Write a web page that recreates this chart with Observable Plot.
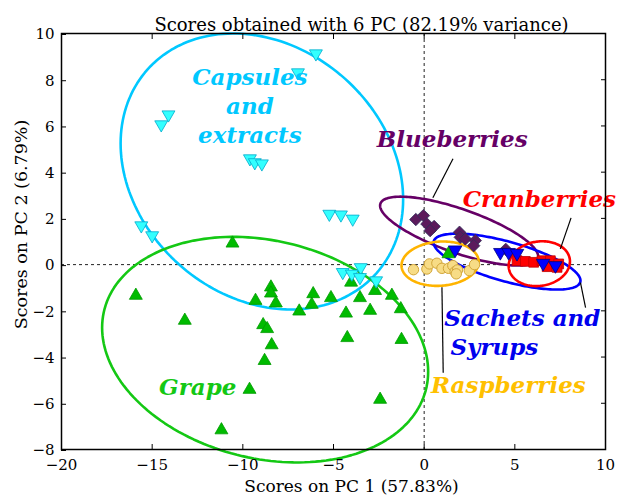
<!DOCTYPE html>
<html>
<head>
<meta charset="utf-8">
<script src="https://cdn.jsdelivr.net/npm/d3@7"></script>
<script src="https://cdn.jsdelivr.net/npm/@observablehq/plot@0.6"></script>
<style>
  html, body { margin: 0; padding: 0; background: white; }
  #chart { width: 617px; height: 497px; }
</style>
</head>
<body>
<div id="chart"></div>
<script>
// ---- Data ----
const titleText = "Scores obtained with 6 PC (82.19% variance)";
const xLabelText = "Scores on PC 1 (57.83%)";
const yLabelText = "Scores on PC 2 (6.79%)";
const xTicks = [-20, -15, -10, -5, 0, 5, 10];
const yTicks = [-8, -6, -4, -2, 0, 2, 4, 6, 8, 10];

// Capsules and extracts (cyan down-triangles)
const capsulesX = [-5.97, -6.96, -14.1, -14.5, -9.61, -9.34, -8.95, -15.6, -15.0, -5.23, -4.59, -3.94, -4.49, -3.99, -3.50, -3.54, -2.65];
const capsulesY = [9.13, 8.31, 6.49, 6.06, 4.59, 4.42, 4.37, 1.69, 1.26, 2.19, 2.16, 1.98, -0.33, -0.40, -0.12, -0.55, -0.69];

// Grape (green triangles)
const grapeX = [-15.9, -13.2, -8.45, -8.45, -9.30, -8.18, -8.88, -8.66, -8.41, -8.80, -9.63, -11.18, -6.89, -6.12, -6.20, -5.14, -4.31, -3.54, -2.98, -4.03, -2.71, -1.78, -1.29, -4.24, -1.25, -2.43, -10.57, 1.34];
const grapeY = [-1.34, -2.42, -0.98, -1.24, -1.56, -1.67, -2.61, -2.78, -3.48, -4.16, -5.41, -7.16, -2.02, -1.27, -1.73, -1.44, -2.11, -1.44, -1.99, -0.77, -1.13, -1.34, -1.92, -3.17, -3.25, -5.84, 0.92, 0.46];

// Raspberries (yellow circles)
const raspX = [-0.59, 0.15, 0.29, 0.70, 0.98, 1.34, 1.58, 1.71, 1.84, 1.77, 2.49, 2.78];
const raspY = [-0.22, -0.19, 0.03, 0.06, -0.16, -0.16, -0.04, -0.30, -0.23, -0.40, -0.26, 0.00];

// Blueberries (purple diamonds)
const blueberX = [-0.46, -0.04, 0.15, 0.55, 0.33, 1.95, 1.99, 2.27, 2.82, 2.73, 4.50];
const blueberY = [1.95, 2.12, 1.76, 1.65, 1.47, 1.40, 1.18, 1.11, 1.04, 0.82, 0.66];

// Cranberries (red squares)
const cranX = [5.12, 5.58, 6.04, 6.50, 6.96, 7.42, 6.78, 7.33];
const cranY = [0.17, 0.14, 0.10, 0.17, 0.17, 0.03, -0.09, -0.12];

// Sachets and Syrups (blue down-triangles)
const sachX = [1.71, 4.20, 4.66, 5.12, 6.56, 7.24];
const sachY = [0.64, 0.53, 0.53, 0.49, 0.06, -0.04];

// Confidence ellipses: centre, half-extent in x and y, correlation
const ellipseNames = ["Capsules", "Grape", "Blueberries", "Sachets", "Cranberries", "Raspberries"];
const ellipseCX = [-8.95, -8.77, 1.93, 4.57, 6.35, 0.88];
const ellipseCY = [4.03, -3.68, 1.45, 0.13, 0.04, 0.04];
const ellipseSX = [7.79, 8.99, 4.36, 4.05, 1.69, 2.13];
const ellipseSY = [5.97, 4.88, 1.49, 1.21, 0.97, 0.96];
const ellipseRho = [-0.203, -0.195, -0.74, -0.68, 0.10, 0.08];
const ellipseColors = ["#00C8FF", "#14C814", "#660066", "#0000FF", "#FF0000", "#FFB400"];

// Group labels
const labelTexts = ["Capsules", "and", "extracts", "Blueberries", "Cranberries", "Sachets and", "Syrups", "Raspberries", "Grape"];
const labelX = [-9.61, -9.61, -9.61, 1.55, 6.35, 5.41, 3.87, 4.64, -12.49];
const labelY = [8.10, 6.84, 5.58, 5.41, 2.81, -2.34, -3.59, -5.24, -5.32];
const labelColors = ["#00C8FF", "#00C8FF", "#00C8FF", "#660066", "#FF0000", "#0000EE", "#0000EE", "#FFC000", "#14C814"];

// Leader lines
const leaderX1 = [1.59, 8.10, 8.62, 0.98];
const leaderY1 = [4.58, 2.02, -0.78, -0.98];
const leaderX2 = [0.48, 7.51, 8.90, 1.05];
const leaderY2 = [2.89, 0.68, -1.86, -4.68];

// ---- Build tables ----
const pts = (xs, ys) => xs.map((x, i) => ({x, y: ys[i]}));
const ellipsePts = [];
ellipseNames.forEach((name, k) => {
  const n = 180;
  const s = Math.sqrt(1 - ellipseRho[k] * ellipseRho[k]);
  for (let i = 0; i <= n; i++) {
    const t = (2 * Math.PI * i) / n;
    ellipsePts.push({
      name,
      x: ellipseCX[k] + ellipseSX[k] * Math.cos(t),
      y: ellipseCY[k] + ellipseSY[k] * (ellipseRho[k] * Math.cos(t) + s * Math.sin(t))
    });
  }
});
const labels = labelTexts.map((t, i) => ({t, x: labelX[i], y: labelY[i], c: labelColors[i]}));
const leaders = leaderX1.map((x1, i) => ({x1, y1: leaderY1[i], x2: leaderX2[i], y2: leaderY2[i]}));

const triDown = {
  draw(context, size) {
    const a = Math.sqrt((4 * size) / Math.sqrt(3));
    const h = (a * Math.sqrt(3)) / 2;
    context.moveTo(0, (2 * h) / 3);
    context.lineTo(-a / 2, -h / 3);
    context.lineTo(a / 2, -h / 3);
    context.closePath();
  }
};

const serif = "DejaVu Serif";

const chart = Plot.plot({
  width: 617,
  height: 497,
  marginTop: 33,
  marginBottom: 48,
  marginLeft: 61,
  marginRight: 12,
  x: {domain: [-20, 10]},
  y: {domain: [-8, 10]},
  style: {fontFamily: serif, fontSize: "14px", background: "white", color: "black", overflow: "visible"},
  marks: [
    Plot.ruleX([0], {stroke: "#222", strokeDasharray: "3,3", strokeWidth: 1}),
    Plot.ruleY([0], {stroke: "#222", strokeDasharray: "3,3", strokeWidth: 1}),
    Plot.line(ellipsePts, {x: "x", y: "y", z: "name", stroke: (d) => ellipseColors[ellipseNames.indexOf(d.name)], strokeWidth: 2.6}),
    Plot.dot(pts(grapeX, grapeY), {x: "x", y: "y", symbol: "triangle", r: 4.8, fill: "#00BB00", stroke: "#009a00", strokeWidth: 0.8}),
    Plot.dot(pts(capsulesX, capsulesY), {x: "x", y: "y", symbol: triDown, r: 4.8, fill: "#33FFFF", stroke: "#00AACC", strokeWidth: 0.8}),
    Plot.dot(pts(raspX, raspY), {x: "x", y: "y", symbol: "circle", r: 5.2, fill: "#F7DC86", stroke: "#D2A63A", strokeWidth: 1}),
    Plot.dot(pts(blueberX, blueberY), {x: "x", y: "y", symbol: "diamond2", r: 5.6, fill: "#5C1A5C", stroke: "#2E2E5A", strokeWidth: 0.8}),
    Plot.dot(pts(cranX, cranY), {x: "x", y: "y", symbol: "square", r: 5.5, fill: "#FF0000", stroke: "#C00000", strokeWidth: 0.8}),
    Plot.dot(pts(sachX, sachY), {x: "x", y: "y", symbol: triDown, r: 5, fill: "#0000FF", stroke: "#000080", strokeWidth: 0.8}),
    Plot.link(leaders, {x1: "x1", y1: "y1", x2: "x2", y2: "y2", stroke: "black", strokeWidth: 1.2}),
    Plot.text(labels, {x: "x", y: "y", text: "t", fill: "c", fontSize: 23, fontWeight: "bold", fontStyle: "italic", fontFamily: serif}),
    Plot.frame({stroke: "black", strokeWidth: 1.5}),
    Plot.axisX(xTicks, {anchor: "bottom", tickSize: -5, tickPadding: 15, label: null, fontSize: 15}),
    Plot.axisX(xTicks, {anchor: "top", tickSize: -5, tickFormat: () => "", label: null}),
    Plot.axisY(yTicks, {anchor: "left", tickSize: -5, tickPadding: 12, label: null, fontSize: 15, dy: 1}),
    Plot.axisY(yTicks, {anchor: "right", tickSize: -5, tickFormat: () => "", label: null}),
    Plot.text([titleText], {frameAnchor: "top", dx: 28, dy: -15, fontSize: 18, fill: "black"}),
    Plot.text([xLabelText], {frameAnchor: "bottom", dx: 18, dy: 37, lineAnchor: "middle", fontSize: 17, fill: "black"}),
    Plot.text([yLabelText], {frameAnchor: "left", textAnchor: "middle", dx: -40, dy: -17, rotate: -90, fontSize: 17.5, fill: "black"})
  ]
});
document.getElementById("chart").appendChild(chart);
</script>
</body>
</html>
